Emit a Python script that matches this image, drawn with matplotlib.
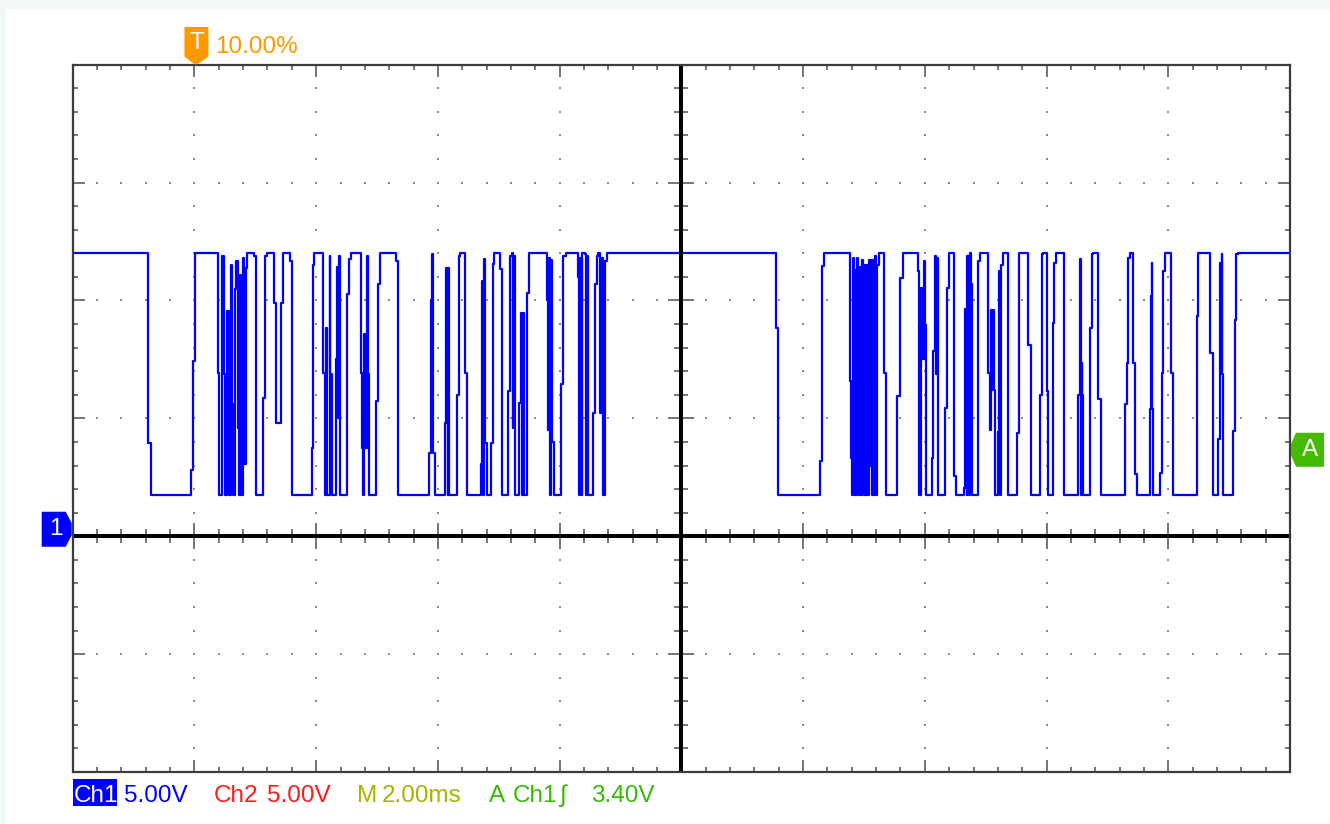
import numpy as np
import matplotlib
matplotlib.use("Agg")
import matplotlib.pyplot as plt
from matplotlib import font_manager
from matplotlib.collections import LineCollection
from matplotlib.patches import Polygon, Rectangle
from matplotlib.transforms import IdentityTransform

# ---------------- data ----------------
# Ch1 trace: time (ms, relative to trigger) where a new sample level starts, and its voltage (V)
burst1_t = [-2.00, -0.76, -0.72, -0.06, -0.03, 0.01, 0.38, 0.41, 0.46, 0.49, 0.51, 0.54, 0.56, 0.57,
            0.60, 0.62, 0.63, 0.67, 0.69, 0.71, 0.73, 0.75, 0.77, 0.80, 0.82, 0.84, 0.87, 0.98, 1.01,
            1.13, 1.16, 1.19, 1.30, 1.34, 1.43, 1.46, 1.57, 1.60, 1.61, 1.93, 1.94, 1.96, 2.11, 2.14,
            2.16, 2.18, 2.22, 2.23, 2.26, 2.32, 2.34, 2.36, 2.37, 2.39, 2.50, 2.54, 2.57, 2.73, 2.76,
            2.77, 2.79, 2.81, 2.83, 2.85, 2.87, 2.98, 3.02, 3.05, 3.31, 3.35, 3.86, 3.88, 3.90, 3.92,
            3.95, 4.12, 4.14, 4.16, 4.17, 4.19, 4.31, 4.34, 4.36, 4.45, 4.48, 4.71, 4.72, 4.74, 4.75,
            4.77, 4.80, 4.88, 4.90, 4.92, 5.02, 5.05, 5.16, 5.19, 5.21, 5.23, 5.24, 5.26, 5.33, 5.37,
            5.39, 5.40, 5.42, 5.47, 5.50, 5.79, 5.81, 5.83, 5.85, 5.86, 5.88, 5.90, 6.03, 6.06, 6.10,
            6.30, 6.32, 6.34, 6.36, 6.37, 6.42, 6.43, 6.45, 6.47, 6.55, 6.58, 6.61, 6.63, 6.66, 6.69,
            6.71, 6.75, 6.78]
burst1_v = [12.0, 3.97, 1.75, 2.83, 7.43, 12.0, 6.93, 1.75, 11.9, 6.86, 1.75, 9.55, 4.74, 1.75,
            11.5, 5.59, 1.75, 10.47, 11.67, 4.60, 1.75, 11.10, 1.75, 11.81, 3.05, 11.39, 12.0, 11.88, 1.75,
            5.87, 11.88, 12.0, 9.90, 4.81, 9.90, 12.0, 11.67, 4.18, 1.75, 3.75, 11.5, 12.0, 6.93, 1.75,
            8.84, 1.75, 11.88, 6.86, 1.75, 7.50, 11.4, 5.0, 11.9, 1.75, 10.26, 11.74, 12.0, 6.93, 3.75,
            1.75, 8.56, 3.75, 11.88, 6.86, 1.75, 5.73, 10.68, 12.0, 11.67, 1.75, 3.54, 10.04, 11.95, 3.54,
            1.75, 4.81, 11.39, 1.75, 11.39, 1.75, 6.01, 11.88, 12.0, 6.93, 1.75, 3.05, 10.82, 1.75, 11.74,
            3.97, 1.75, 3.97, 11.53, 12.0, 11.32, 1.75, 6.16, 11.88, 12.0, 4.60, 11.88, 1.75, 5.66, 9.48,
            1.75, 9.48, 1.75, 10.33, 12.0, 10.04, 4.5, 11.8, 1.75, 11.7, 4.0, 1.75, 6.44, 11.88, 12.0,
            11.0, 1.75, 11.8, 1.75, 12.0, 11.95, 1.75, 11.9, 1.75, 5.24, 10.68, 11.88, 12.0, 5.24, 11.81,
            1.75, 11.67, 12.0]

burst2_t = [9.55, 9.58, 10.28, 10.31, 10.34, 10.77, 10.79, 10.80, 10.82, 10.84, 10.85, 10.87, 10.89,
            10.90, 10.92, 10.94, 10.95, 10.97, 10.98, 11.00, 11.02, 11.03, 11.05, 11.07, 11.08, 11.10,
            11.12, 11.13, 11.15, 11.16, 11.18, 11.20, 11.22, 11.24, 11.33, 11.36, 11.55, 11.59, 11.64,
            11.88, 11.91, 11.94, 11.95, 11.98, 12.00, 12.02, 12.11, 12.14, 12.16, 12.18, 12.20, 12.22,
            12.33, 12.36, 12.40, 12.48, 12.52, 12.64, 12.66, 12.69, 12.70, 12.72, 12.74, 12.76, 12.78,
            12.88, 12.91, 13.04, 13.07, 13.09, 13.10, 13.12, 13.14, 13.15, 13.20, 13.22, 13.24, 13.26,
            13.29, 13.36, 13.37, 13.51, 13.54, 13.55, 13.70, 13.74, 13.89, 13.92, 13.95, 14.00, 14.03,
            14.10, 14.12, 14.16, 14.29, 14.52, 14.55, 14.57, 14.58, 14.59, 14.60, 14.71, 14.74, 14.77,
            14.85, 14.89, 15.29, 15.32, 15.34, 15.37, 15.42, 15.45, 15.48, 15.70, 15.71, 15.73, 15.74,
            15.75, 15.86, 15.89, 15.92, 15.95, 16.04, 16.08, 16.47, 16.49, 16.69, 16.73, 16.82, 16.85,
            16.87, 16.88, 16.89, 16.90, 17.06, 17.10, 17.12, 17.15, 18.00]
burst2_v = [8.84, 1.75, 3.19, 11.46, 12.0, 6.58, 3.33, 1.75, 11.8, 1.75, 11.3, 1.75, 11.8,
            5.0, 1.75, 11.4, 1.75, 11.7, 6.5, 1.75, 11.5, 1.75, 11.5, 1.75, 11.7, 3.0,
            11.7, 1.75, 11.7, 1.75, 11.9, 1.75, 11.5, 12.0, 6.93, 1.75, 5.94, 10.96, 12.0,
            11.25, 1.75, 10.54, 7.5, 11.67, 8.98, 1.75, 3.33, 7.85, 11.88, 6.9, 11.8, 1.75,
            5.45, 10.54, 12.0, 2.55, 1.75, 2.06, 9.62, 1.75, 11.9, 1.75, 12.0, 10.7, 1.75,
            11.67, 12.0, 6.93, 4.5, 9.6, 6.2, 9.6, 6.2, 1.75, 4.4, 11.25, 1.75, 11.5,
            12.0, 2.13, 1.75, 4.39, 11.67, 12.0, 8.13, 1.75, 6.01, 11.95, 12.0, 6.16, 1.75,
            9.05, 11.60, 12.0, 1.75, 6.01, 11.74, 1.75, 7.36, 6.0, 1.75, 8.84, 11.95, 12.0,
            5.80, 1.75, 5.59, 7.36, 11.81, 12.0, 7.36, 2.62, 1.75, 5.38, 10.19, 11.60, 5.38,
            1.75, 2.69, 6.93, 11.25, 12.0, 6.93, 1.75, 9.34, 12.0, 7.78, 1.75, 4.11, 11.60,
            7.0, 11.95, 6.86, 1.75, 4.46, 9.19, 11.95, 12.0, 12.0]

# scope settings / readouts
time_per_div = 2.0      # ms
volts_per_div = 5.0     # V
t_start, t_stop = -2.0, 18.0
v_bottom, v_top = -10.0, 20.0
ch1_ground = 0.0
trig_time = 0.0
trig_level = 3.40
trig_pos_text = "10.00%"
readout_texts = ["Ch1", "5.00V", "Ch2", "5.00V", "M", "2.00ms", "A", "Ch1", "\u222b", "3.40V"]
readout_colors = ["white", "#0000ff", "#ff1a1a", "#ff1a1a", "#a8b400", "#a8b400",
                  "#33bb00", "#33bb00", "#33bb00", "#33bb00"]
readout_x_px = [74, 124, 214, 267, 357, 382, 489, 513, 559, 591]

# ---------------- fonts ----------------
try:
    font_manager.findfont(font_manager.FontProperties(family="Liberation Sans Narrow"),
                          fallback_to_default=False)
    FONT = ["Liberation Sans Narrow", "DejaVu Sans"]
    fs = 21
except Exception:
    FONT = ["Liberation Sans", "DejaVu Sans"]
    fs = 17.5

# ---------------- figure ----------------
W, H = 1330, 824
fig = plt.figure(figsize=(W / 100, H / 100), dpi=100)
fig.patch.set_facecolor("#f2f8f5")
fig.add_artist(Rectangle((6, 0), W - 6, H - 9, transform=IdentityTransform(),
                         facecolor="white", edgecolor="none", zorder=0))

L_, R_, T_, B_ = 72.7, 1290.0, 64.7, 772.0
ax = fig.add_axes([L_ / W, (H - B_) / H, (R_ - L_) / W, (B_ - T_) / H])
ax.set_xlim(t_start, t_stop)
ax.set_ylim(v_bottom, v_top)
ax.set_facecolor("white")
ax.set_xticks([])
ax.set_yticks([])
for s in ax.spines.values():
    s.set_color("#3c3c3c")
    s.set_linewidth(1.6)
    s.set_zorder(8)

sx = (t_stop - t_start) / (R_ - L_)     # ms per pixel
sy = (v_top - v_bottom) / (B_ - T_)     # V per pixel

minor_x = np.arange(t_start, t_stop + 1e-9, time_per_div / 5)[1:-1]
minor_y = np.arange(v_bottom, v_top + 1e-9, volts_per_div / 5)[1:-1]
major_x = np.arange(t_start + time_per_div, t_stop - 1e-9, time_per_div)
major_y = np.arange(v_bottom + volts_per_div, v_top - 1e-9, volts_per_div)
xc = (t_start + t_stop) / 2
yc = ch1_ground

def is_major(v, arr):
    return np.any(np.isclose(arr, v))

# dotted graticule
dx, dy = [], []
for x in major_x:
    if np.isclose(x, xc):
        continue
    for y in minor_y:
        dx.append(x); dy.append(y)
for y in major_y:
    if np.isclose(y, yc):
        continue
    for x in minor_x:
        dx.append(x); dy.append(y)
ax.scatter(dx, dy, s=2.2, marker="s", color="#8c8c8c", linewidths=0, zorder=2)

# ticks on border and centre lines
segs = []
for x in minor_x:
    Lb = 12 if is_major(x, major_x) else 5
    segs.append([(x, v_top), (x, v_top - Lb * sy)])
    segs.append([(x, v_bottom), (x, v_bottom + Lb * sy)])
    Lc = 13 if is_major(x, major_x) else 7
    segs.append([(x, yc - Lc * sy), (x, yc + Lc * sy)])
for y in minor_y:
    Lb = 12 if is_major(y, major_y) else 5
    segs.append([(t_start, y), (t_start + Lb * sx, y)])
    segs.append([(t_stop, y), (t_stop - Lb * sx, y)])
    Lc = 13 if is_major(y, major_y) else 7
    segs.append([(xc - Lc * sx, y), (xc + Lc * sx, y)])
ax.add_collection(LineCollection(segs, colors="#6a6a6a", linewidths=1.3, zorder=4))

# trace
trace_t = burst1_t + burst2_t
trace_v = burst1_v + burst2_v
ax.plot(trace_t, trace_v, drawstyle="steps-post", color="#0000ff", lw=1.6, zorder=5)

# centre cross
ax.axvline(xc, color="black", lw=2.9, zorder=7)
ax.axhline(yc, color="black", lw=2.9, zorder=7)

# ---------------- markers (pixel offsets from their data anchors) ----------------
ID = IdentityTransform()

gx, gy = ax.transData.transform((t_start, ch1_ground))
p1 = [(-31, 24.5), (-7, 24.5), (-1, 13), (-1, 1), (-7, -10.5), (-31, -10.5)]
fig.add_artist(Polygon([(gx + a, gy + b) for a, b in p1], closed=True, transform=ID,
                       facecolor="#0000ff", edgecolor="none", zorder=9))
fig.text(gx - 17, gy + 7, "1", transform=ID, color="white", fontsize=fs, family=FONT,
         ha="center", va="center", zorder=10)

ax_, ay_ = ax.transData.transform((t_stop, trig_level))
pa = [(1, 12), (6, 23.3), (34, 23.3), (34, -10.7), (6, -10.7), (1, 0.7)]
fig.add_artist(Polygon([(ax_ + a, ay_ + b) for a, b in pa], closed=True, transform=ID,
                       facecolor="#44bb00", edgecolor="none", zorder=9))
fig.text(ax_ + 20, ay_ + 6.3, "A", transform=ID, color="white", fontsize=fs, family=FONT,
         ha="center", va="center", zorder=10)

tx, ty = ax.transData.transform((trig_time, v_top))
pt = [(-10, 37.7), (14, 37.7), (14, 8), (3, 0.5), (0, 0.5), (-10, 8)]
fig.add_artist(Polygon([(tx + a, ty + b) for a, b in pt], closed=True, transform=ID,
                       facecolor="#ff9900", edgecolor="none", zorder=9))
fig.text(tx + 2, ty + 22, "T", transform=ID, color="white", fontsize=fs, family=FONT,
         ha="center", va="center", zorder=10)
fig.text(tx + 20.6, ty + 11.7, trig_pos_text, transform=ID, color="#ff9900", fontsize=fs,
         family=FONT, ha="left", va="baseline", zorder=10)

# ---------------- bottom readout ----------------
base = H - 802
fig.add_artist(Rectangle((73, H - 806), 44, 27, transform=ID, facecolor="#0000ff",
                         edgecolor="none", zorder=9))
for s, c, x in zip(readout_texts, readout_colors, readout_x_px):
    fig.text(x, base, s, transform=ID, color=c, fontsize=fs, family=FONT,
             va="baseline", ha="left", zorder=10)

fig.savefig("out.png", dpi=100, facecolor=fig.get_facecolor())
